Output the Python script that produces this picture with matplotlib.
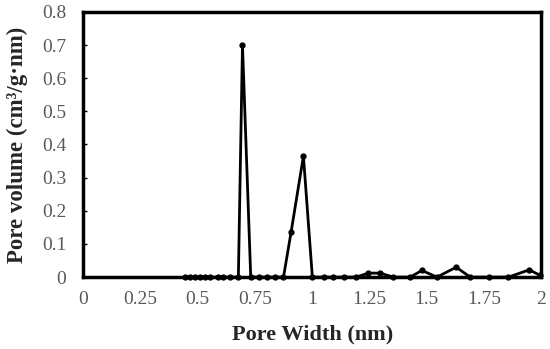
import matplotlib
matplotlib.use("Agg")
import matplotlib.pyplot as plt

# pore width (nm) and differential pore volume (cm3/g.nm)
pore_width = [0.445, 0.467, 0.489, 0.511, 0.533, 0.555, 0.590, 0.611, 0.642, 0.678,
              0.696, 0.732, 0.766, 0.802, 0.838, 0.875, 0.908, 0.962, 1.001, 1.052,
              1.089, 1.137, 1.192, 1.246, 1.297, 1.355, 1.428, 1.479, 1.545, 1.629,
              1.690, 1.770, 1.857, 1.948, 1.996]
pore_volume = [0.0, 0.0, 0.0, 0.0, 0.0, 0.0, 0.0, 0.0, 0.0, 0.0,
               0.700, 0.0, 0.0, 0.0, 0.0, 0.0, 0.135, 0.365, 0.0, 0.0,
               0.0, 0.0, 0.0, 0.012, 0.012, 0.0, 0.0, 0.020, 0.0, 0.030,
               0.0, 0.0, 0.0, 0.022, 0.005]

x_ticks = [0, 0.25, 0.5, 0.75, 1, 1.25, 1.5, 1.75, 2]
x_tick_labels = ["0", "0.25", "0.5", "0.75", "1", "1.25", "1.5", "1.75", "2"]
y_ticks = [0, 0.1, 0.2, 0.3, 0.4, 0.5, 0.6, 0.7, 0.8]
y_tick_labels = ["0", "0.1", "0.2", "0.3", "0.4", "0.5", "0.6", "0.7", "0.8"]

plt.rcParams["font.family"] = ["Liberation Serif", "DejaVu Serif"]

fig = plt.figure(figsize=(5.5, 3.49), dpi=100)
ax = fig.add_axes([0.151, 0.206, 0.833, 0.760])

ax.plot(pore_width, pore_volume, "-o", color="black", linewidth=2.0,
        markersize=3.5, clip_on=False, zorder=3)

ax.set_xlim(0, 2)
ax.set_ylim(0, 0.8)
ax.set_xticks(x_ticks)
ax.set_xticklabels(x_tick_labels)
ax.set_yticks(y_ticks)
ax.set_yticklabels(y_tick_labels)
ax.tick_params(axis="both", direction="in", length=3, width=1,
               labelsize=14, labelcolor="#595959", color="black")
ax.tick_params(axis="x", pad=10, length=0)
ax.tick_params(axis="y", pad=12)

for spine in ax.spines.values():
    spine.set_linewidth(2.5)
    spine.set_color("black")

ax.set_xlabel("Pore Width (nm)", fontsize=16, fontweight="bold",
              color="#262626", labelpad=12)
ax.set_ylabel("Pore volume (cm³/g·nm)", fontsize=16.5, fontweight="bold",
              color="#262626", labelpad=10)

fig.savefig("out.png", dpi=100)
